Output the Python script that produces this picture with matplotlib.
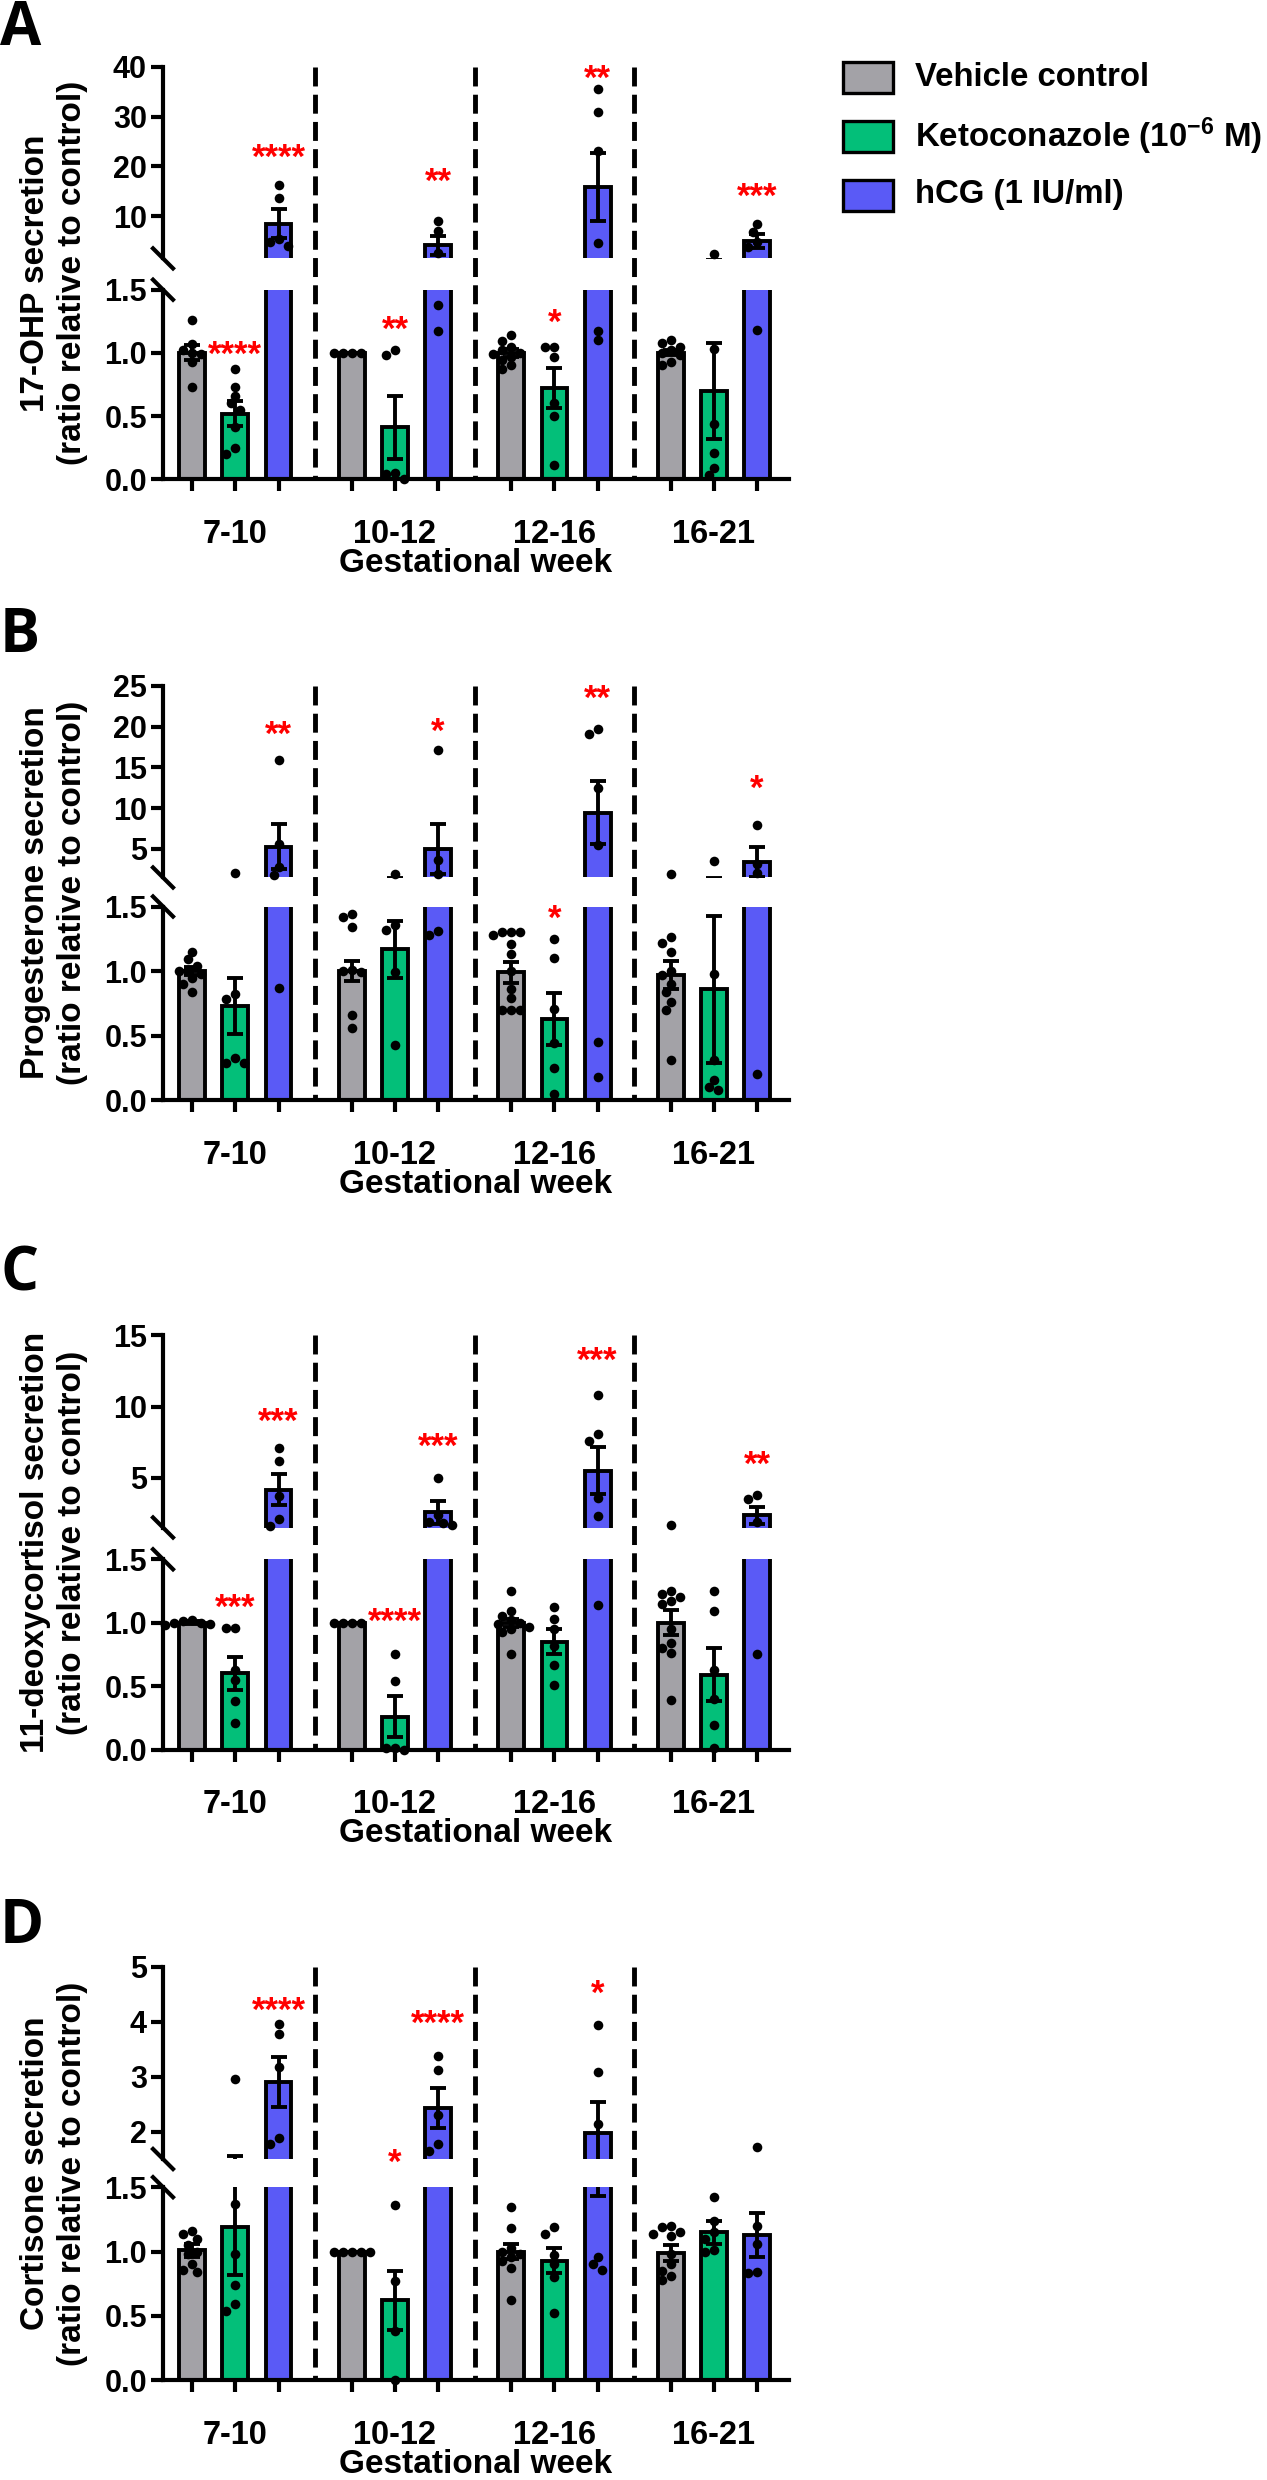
import numpy as np
import matplotlib
matplotlib.use("Agg")
import matplotlib.pyplot as plt
from matplotlib.lines import Line2D
from matplotlib.patches import Rectangle
from matplotlib import transforms

plt.rcParams['font.family'] = ['Liberation Sans', 'DejaVu Sans']
plt.rcParams['font.weight'] = 'bold'
plt.rcParams['mathtext.fontset'] = 'custom'
plt.rcParams['mathtext.rm'] = 'Liberation Sans:bold'
plt.rcParams['mathtext.it'] = 'Liberation Sans:bold'
plt.rcParams['mathtext.bf'] = 'Liberation Sans:bold'

weeks = ['7-10', '10-12', '12-16', '16-21']
treatments = ['Vehicle control', 'Ketoconazole (10$^{-6}$ M)', 'hCG (1 IU/ml)']
colors = ['#a3a2a7', '#03bf79', '#5a5af6']

# ---- 17-OHP (A) ----  rows = weeks, cols = vehicle / keto / hCG
ohp_mean = [[1.0, 0.52, 8.5], [1.0, 0.41, 4.1], [1.0, 0.72, 15.9], [1.0, 0.70, 5.0]]
ohp_sem = [[0.06, 0.10, 2.9], [0.0, 0.25, 1.9], [0.03, 0.16, 6.8], [0.02, 0.38, 1.5]]
ohp_pts = [
    [[1.26, 1.07, 1.02, 1.0, 0.99, 0.93, 0.73],
     [0.87, 0.73, 0.66, 0.60, 0.55, 0.41, 0.25, 0.20],
     [16.3, 13.6, 5.4, 4.8, 4.0]],
    [[1.0, 1.0, 1.0, 1.0],
     [1.02, 0.98, 0.04, 0.0, 0.05],
     [9.1, 7.0, 2.6, 1.38, 1.17]],
    [[1.14, 1.09, 1.05, 1.02, 1.0, 0.99, 0.97, 0.94, 0.90, 0.87],
     [1.05, 1.05, 0.97, 0.60, 0.50, 0.11],
     [35.5, 31.0, 23.2, 4.5, 1.17, 1.10]],
    [[1.10, 1.08, 1.05, 1.02, 1.0, 0.98, 0.93, 0.90],
     [2.46, 1.03, 0.44, 0.21, 0.09, 0.03],
     [8.4, 6.9, 4.8, 3.8, 1.18]],
]
ohp_stars = [(0, 1, '****', 1.057), (0, 2, '****', 23.7), (1, 1, '**', 1.26), (1, 2, '**', 18.7),
             (2, 1, '*', 1.31), (2, 2, '**', 39.6), (3, 2, '***', 15.8)]

# ---- Progesterone (B) ----
prog_mean = [[1.0, 0.73, 5.3], [1.0, 1.17, 4.95], [0.99, 0.63, 9.45], [0.97, 0.86, 3.4]]
prog_sem = [[0.03, 0.22, 2.7], [0.08, 0.22, 3.05], [0.08, 0.20, 3.85], [0.11, 0.57, 1.8]]
prog_pts = [
    [[1.15, 1.09, 1.04, 1.01, 1.0, 0.98, 0.95, 0.90, 0.84],
     [2.0, 0.82, 0.78, 0.33, 0.29, 0.29],
     [15.85, 5.6, 2.75, 1.8, 0.87]],
    [[1.44, 1.42, 1.34, 1.01, 1.0, 0.99, 0.66, 0.56],
     [1.9, 1.36, 1.32, 0.99, 0.43],
     [17.1, 3.66, 1.9, 1.31, 1.28]],
    [[1.30, 1.30, 1.30, 1.28, 1.21, 1.13, 1.0, 0.86, 0.79, 0.70, 0.70, 0.70],
     [1.25, 1.10, 0.71, 0.44, 0.25, 0.05],
     [19.7, 19.1, 12.5, 5.5, 0.45, 0.18]],
    [[1.9, 1.26, 1.22, 1.15, 1.0, 0.97, 0.90, 0.84, 0.76, 0.70, 0.31],
     [3.5, 0.98, 0.31, 0.16, 0.08, 0.10],
     [7.9, 3.2, 2.1, 0.2]],
]
prog_stars = [(0, 2, '**', 20.1), (1, 2, '*', 20.5), (2, 1, '*', 1.48), (2, 2, '**', 24.6), (3, 2, '*', 13.5)]

# ---- 11-deoxycortisol (C) ----
doc_mean = [[1.0, 0.60, 4.15], [1.0, 0.26, 2.57], [1.0, 0.85, 5.5], [1.0, 0.59, 2.35]]
doc_sem = [[0.01, 0.13, 1.1], [0.0, 0.16, 0.8], [0.03, 0.10, 1.65], [0.10, 0.21, 0.6]]
doc_pts = [
    [[1.02, 1.01, 1.0, 0.99, 0.98, 1.0],
     [0.96, 0.96, 0.63, 0.55, 0.38, 0.21],
     [7.1, 6.2, 3.7, 2.1, 1.6]],
    [[1.0, 1.0, 1.0, 1.0],
     [0.75, 0.54, 0.01, 0.0, 0.01],
     [4.95, 2.4, 1.9, 1.8, 1.7]],
    [[1.25, 1.09, 1.05, 1.02, 1.0, 0.99, 0.97, 0.95, 0.93, 0.75],
     [1.12, 1.03, 0.95, 0.82, 0.67, 0.51],
     [10.8, 8.1, 7.6, 3.6, 2.3, 1.14]],
    [[1.7, 1.25, 1.23, 1.20, 1.17, 1.15, 0.95, 0.84, 0.80, 0.76, 0.39],
     [1.25, 1.09, 0.63, 0.40, 0.19, 0.01],
     [3.75, 3.5, 1.9, 0.75]],
]
doc_stars = [(0, 1, '***', 1.19), (0, 2, '***', 9.6), (1, 1, '****', 1.08), (1, 2, '***', 7.8),
             (2, 2, '***', 13.9), (3, 2, '**', 6.6)]

# ---- Cortisone (D) ----
cort_mean = [[1.01, 1.19, 2.9], [1.0, 0.62, 2.43], [1.0, 0.93, 1.98], [0.99, 1.15, 1.13]]
cort_sem = [[0.05, 0.37, 0.46], [0.0, 0.23, 0.37], [0.06, 0.10, 0.55], [0.06, 0.09, 0.17]]
cort_pts = [
    [[1.16, 1.14, 1.10, 1.05, 1.0, 0.98, 0.90, 0.86, 0.84],
     [2.95, 1.37, 0.98, 0.74, 0.59, 0.54],
     [3.96, 3.77, 3.17, 1.88, 1.78]],
    [[1.0, 1.0, 1.0, 1.0, 1.0],
     [1.36, 0.77, 0.38, 0.0],
     [3.37, 3.12, 2.31, 1.78, 1.65]],
    [[1.35, 1.18, 1.03, 1.0, 0.98, 0.96, 0.93, 0.87, 0.62],
     [1.19, 1.14, 0.97, 0.90, 0.80, 0.52],
     [3.94, 3.09, 2.13, 0.96, 0.90, 0.86]],
    [[1.20, 1.19, 1.15, 1.14, 1.12, 0.98, 0.90, 0.85, 0.81, 0.78],
     [1.42, 1.24, 1.15, 1.10, 1.01, 1.0],
     [1.72, 1.20, 1.06, 0.84, 0.83]],
]
cort_stars = [(0, 2, '****', 4.37), (1, 1, '*', 1.61), (1, 2, '****', 4.13), (2, 2, '*', 4.68)]

# ---- layout (pixels on a 1267 x 2480 canvas) ----
W, H = 1267, 2480
AX_L, AX_R = 163, 789
BREAK = 1.5
G = 3.7            # distance between week groups, in bar units
XMIN, XMAX = -1.68, 12.84
BAR_W = 0.6

fig = plt.figure(figsize=(W / 100, H / 100), dpi=100)
px_per_x = (AX_R - AX_L) / (XMAX - XMIN)


def add_ax(top, bot):
    return fig.add_axes([AX_L / W, 1 - bot / H, (AX_R - AX_L) / W, (bot - top) / H])


def spread(ypx, mind=8.6, step=4.5):
    ypx = np.asarray(ypx, float)
    xs = np.zeros(len(ypx))
    done = []
    for i in np.argsort(ypx):
        k = 0
        while True:
            cands = [0.0] if k == 0 else [-k * step, k * step]
            hit = None
            for c in cands:
                if all((c - xs[j]) ** 2 + (ypx[i] - ypx[j]) ** 2 >= mind ** 2 for j in done):
                    hit = c
                    break
            if hit is not None:
                xs[i] = hit
                done.append(i)
                break
            k += 1
    return xs


def panel(rows, letter, letter_base, ylabel, top, ticks, means, sems, pts, stars):
    ut, ub, lt, lb = rows
    up = add_ax(ut, ub)
    lo = add_ax(lt, lb)
    means = np.array(means)
    sems = np.array(sems)
    for ax, lim in ((up, (BREAK, top)), (lo, (0, BREAK))):
        ax.set_xlim(XMIN, XMAX)
        ax.set_ylim(*lim)
        ax.patch.set_alpha(0)
        for s in ('top', 'right'):
            ax.spines[s].set_visible(False)
        ax.spines['left'].set_linewidth(3.0)
        ax.spines['bottom'].set_linewidth(3.0)
        ax.tick_params(axis='y', direction='out', length=8.6, width=3.0, labelsize=22, pad=3)
        for t, trt in enumerate(treatments):
            xs = np.arange(4) * G + (t - 1)
            ax.bar(xs, means[:, t], width=BAR_W, color=colors[t], edgecolor='black',
                   linewidth=2.8, zorder=2)
            ax.errorbar(xs, means[:, t], yerr=sems[:, t], fmt='none', ecolor='black',
                        elinewidth=2.8, capsize=5.6, capthick=2.8, zorder=3)
    up.spines['bottom'].set_visible(False)
    up.set_xticks([])
    up.set_yticks(ticks)
    up.set_yticklabels([str(t) for t in ticks])
    lo.set_yticks([0, 0.5, 1.0, 1.5])
    lo.set_yticklabels(['0.0', '0.5', '1.0', '1.5'])
    lo.set_xticks(np.arange(4) * G)
    lo.set_xticklabels(weeks)
    lo.set_xticks([x + d for x in np.arange(4) * G for d in (-1, 1)], minor=True)
    lo.tick_params(axis='x', which='both', direction='out', length=8.6, width=3.0,
                   labelsize=23.5, pad=20)

    # individual points, spread sideways like a column scatter
    for w in range(4):
        for t in range(3):
            vals = np.array(pts[w][t], float)
            ypx = np.where(vals > BREAK,
                           ub - (vals - BREAK) / (top - BREAK) * (ub - ut),
                           lb - vals / BREAK * (lb - lt))
            off = spread(ypx) / px_per_x
            x0 = w * G + (t - 1)
            hi = vals > BREAK
            up.scatter(x0 + off[hi], vals[hi], s=48, color='black', linewidths=0, zorder=4, clip_on=False)
            lo.scatter(x0 + off[~hi], vals[~hi], s=48, color='black', linewidths=0, zorder=4, clip_on=False)

    # significance stars
    for w, t, txt, yv in stars:
        ax = up if yv > BREAK else lo
        tr = ax.transData + transforms.ScaledTranslation(0, -14 / 72, fig.dpi_scale_trans)
        ax.text(w * G + (t - 1), yv, txt, transform=tr, color='red', fontsize=25,
                ha='center', va='baseline', clip_on=False, zorder=5)

    # dashed separators between week groups
    bt = transforms.blended_transform_factory(lo.transData, fig.transFigure)
    for k in range(3):
        xd = (k + 0.5) * G
        fig.add_artist(Line2D([xd, xd], [1 - ut / H, 1 - lb / H], transform=bt, color='black',
                              lw=3.5, linestyle=(0, (3.9, 1.7))))

    # axis break marks
    for yc in (ub, lt):
        fig.add_artist(Line2D([(AX_L - 10) / W, (AX_L + 10) / W],
                              [1 - (yc - 10) / H, 1 - (yc + 10) / H],
                              transform=fig.transFigure, color='black', lw=3.0))

    fig.text(54 / W, 1 - (ut + lb) / 2 / H, ylabel, rotation=90, ha='center', va='center',
             fontsize=24, linespacing=1.25, multialignment='center')
    fig.text((AX_L + AX_R) / 2 / W, 1 - (lb + 84) / H, 'Gestational week', ha='center',
             va='center', fontsize=24)
    fig.text(0, 1 - letter_base / H, letter, fontsize=43, family='Open Sans', weight='bold',
             va='baseline', ha='left')


panel((67, 258.4, 289.7, 479.2), 'A', 45, '17-OHP secretion\n(ratio relative to control)',
      40, [10, 20, 30, 40], ohp_mean, ohp_sem, ohp_pts, ohp_stars)
panel((685.8, 877.5, 906.5, 1100.2), 'B', 652, 'Progesterone secretion\n(ratio relative to control)',
      25, [5, 10, 15, 20, 25], prog_mean, prog_sem, prog_pts, prog_stars)
panel((1335.4, 1527.5, 1559.3, 1749.5), 'C', 1291, '11-deoxycortisol secretion\n(ratio relative to control)',
      15, [5, 10, 15], doc_mean, doc_sem, doc_pts, doc_stars)
panel((1967, 2159, 2187.2, 2380.2), 'D', 1943, 'Cortisone secretion\n(ratio relative to control)',
      5, [2, 3, 4, 5], cort_mean, cort_sem, cort_pts, cort_stars)

# legend
for i, (lab, col) in enumerate(zip(treatments, colors)):
    cy = 77 + i * 59
    fig.add_artist(Rectangle((843 / W, 1 - (cy + 15.5) / H), 50 / W, 31 / H, transform=fig.transFigure,
                             facecolor=col, edgecolor='black', lw=2.4))
    fig.text(915 / W, 1 - cy / H, lab, ha='left', va='center', fontsize=23.8)

fig.savefig('out.png', dpi=100)
